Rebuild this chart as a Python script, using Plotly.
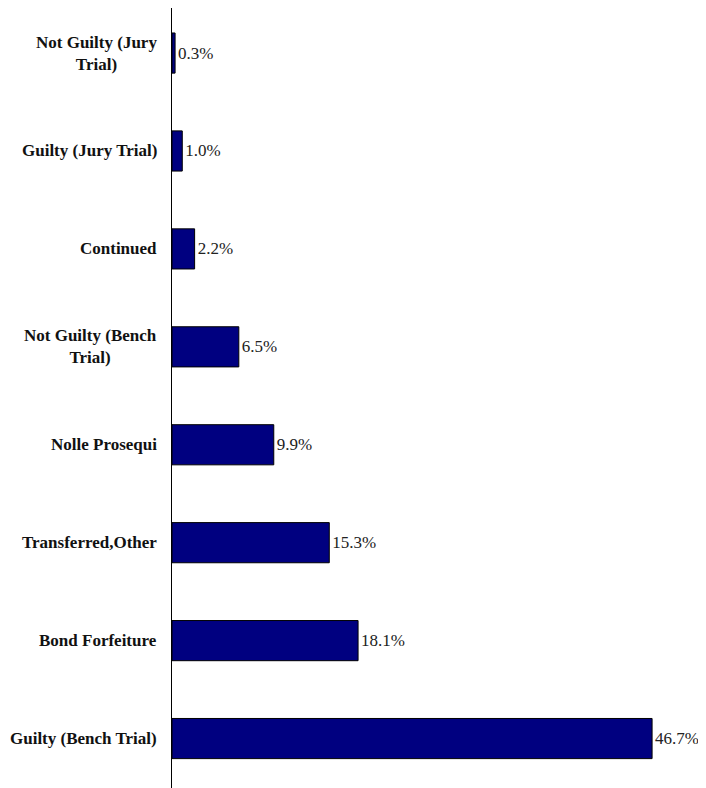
import plotly.graph_objects as go

categories = [
    "Not Guilty (Jury<br>Trial)",
    "Guilty (Jury Trial)",
    "Continued",
    "Not Guilty (Bench<br>Trial)",
    "Nolle Prosequi",
    "Transferred,Other",
    "Bond Forfeiture",
    "Guilty (Bench Trial)",
]
values = [0.3, 1.0, 2.2, 6.5, 9.9, 15.3, 18.1, 46.7]

FONT = "Liberation Serif"

fig = go.Figure(
    go.Bar(
        x=values,
        y=categories,
        orientation="h",
        marker=dict(color="#000080", line=dict(color="black", width=1)),
        text=[f"{v:.1f}%" for v in values],
        textposition="outside",
        textfont=dict(family=FONT, size=17, color="#222222"),
        cliponaxis=False,
        width=0.41,
    )
)

# Category labels as centre-aligned annotations placed on the category axis
for cat in categories:
    fig.add_annotation(
        x=0,
        xref="paper",
        y=cat,
        yref="y",
        text=f"<b>{cat}</b>",
        showarrow=False,
        xanchor="right",
        yanchor="middle",
        align="center",
        xshift=-13,
        font=dict(family=FONT, size=17, color="#111111"),
    )

fig.update_layout(
    width=698,
    height=780,
    margin=dict(l=164, r=20, t=0, b=0),
    plot_bgcolor="white",
    paper_bgcolor="white",
    showlegend=False,
    font=dict(family=FONT, size=17, color="black"),
    xaxis=dict(
        range=[0, 50],
        visible=False,
        showgrid=False,
        zeroline=False,
    ),
    yaxis=dict(
        range=[7.505, -0.46],
        showline=True,
        linecolor="black",
        linewidth=1,
        showgrid=False,
        ticks="",
        showticklabels=False,
    ),
)

fig.write_html("out.html")
